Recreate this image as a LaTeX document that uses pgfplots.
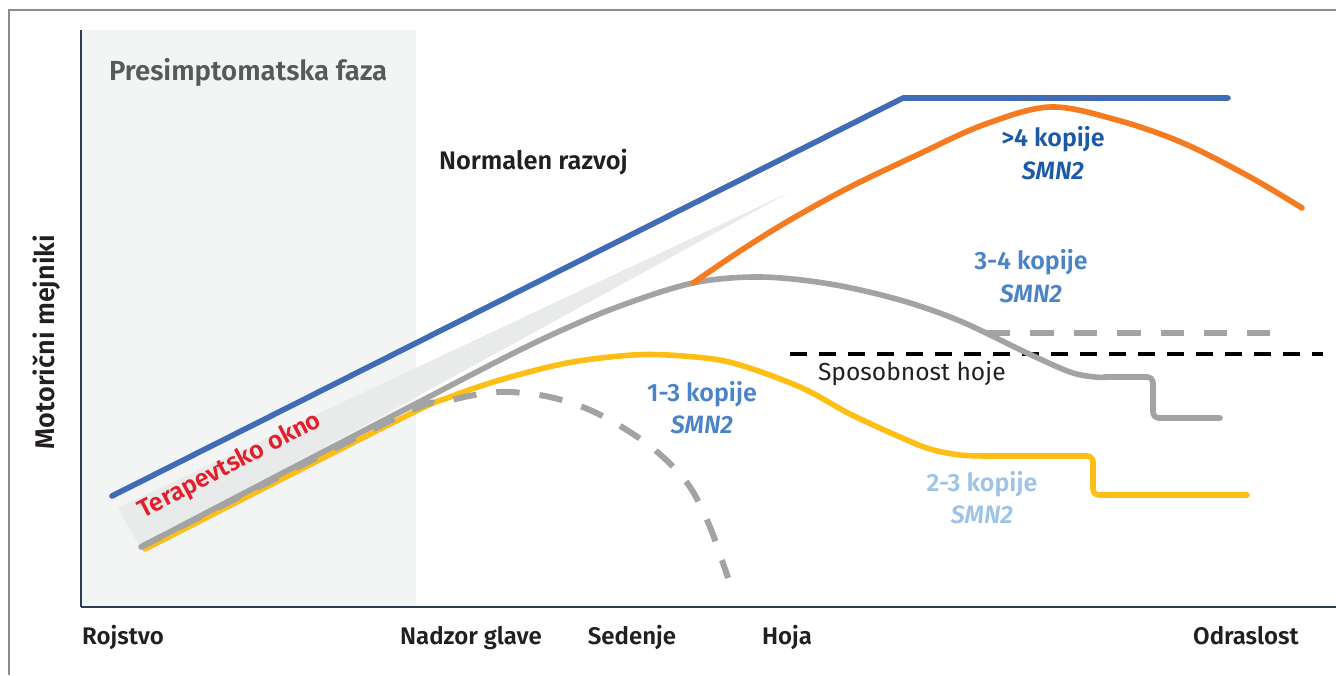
\documentclass[border=0pt]{standalone}
\usepackage{fontspec}
\setmainfont{Fira Sans}[BoldFont={Fira Sans SemiBold},BoldItalicFont={Fira Sans SemiBold Italic}]
\usepackage{pgfplots}
\pgfplotsset{compat=1.18}
\definecolor{blueN}{HTML}{3F6CB4}
\definecolor{orangeC}{HTML}{F47B20}
\definecolor{grayC}{HTML}{A3A3A3}
\definecolor{yellowC}{HTML}{FDBE16}
\definecolor{dblueT}{HTML}{1B5AA6}
\definecolor{mblueT}{HTML}{4A84C6}
\definecolor{lblueT}{HTML}{9DC3E6}
\definecolor{redC}{HTML}{E31E2D}
\definecolor{shadeC}{HTML}{F3F4F4}
\definecolor{wedgeC}{HTML}{E9EAEA}
\definecolor{axisC}{HTML}{2F3B4F}
\definecolor{frameC}{HTML}{8C8C8C}
\definecolor{presT}{HTML}{58595B}
\definecolor{txtC}{HTML}{231F20}
\begin{document}
\begin{tikzpicture}
\begin{axis}[
  scale only axis, width=627.5pt, height=288.5pt,
  xmin=81, xmax=1336, ymin=68, ymax=645,
  axis x line*=bottom, axis y line*=left,
  axis line style={-, line width=1.4pt, color=axisC},
  axis on top, clip=false,
  ytick=\empty,
  xtick={123,471,632,787,1246},
  xticklabels={Rojstvo,Nadzor glave,Sedenje,Hoja,Odraslost},
  major tick length=0pt,
  xticklabel style={font=\bfseries\fontsize{12}{14}\selectfont, text=txtC, anchor=base, yshift=-18.5pt},
  ylabel={Motorični mejniki},
  ylabel style={font=\bfseries\fontsize{13.5}{16}\selectfont, text=txtC, at={(axis description cs:-0.0271,0.459)}, anchor=center},
]
% presymptomatic phase background
\addplot[draw=none, fill=shadeC] coordinates {(81,68) (416,68) (416,645) (81,645)} \closedcycle;
% therapeutic window wedge
\addplot[draw=none, fill=wedgeC] coordinates {(118,167) (790,483) (141,127) (118,167)};
% walking ability line
\addplot[black, line width=2pt, dash pattern=on 8.3pt off 6.2pt] coordinates {(790,321) (1323,321)};
% 3-4 copies dashed plateau
\addplot[grayC, line width=3pt, dash pattern=on 11.7pt off 10pt] coordinates {(987,342) (1270,342)};
% yellow (2-3 copies)
\addplot[yellowC, line width=2.8pt, line cap=round, smooth, tension=0.55] coordinates {
 (145,126) (400,256) (450,278) (500,295) (567,312) (633,320) (683,319) (733,312) (800,288) (850,261) (900,238) (930,226) (960,220) (990,219)};
\addplot[yellowC, line width=2.8pt, line cap=round, rounded corners=3pt] coordinates {
 (985,219) (1093,219) (1093,180) (1247,180)};
% grey dashed (1-3 copies)
\addplot[grayC, line width=3pt, dash pattern=on 11.7pt off 10pt, smooth, tension=0.55] coordinates {
 (141,128) (400,259) (440,272) (480,281) (510,283) (550,278) (590,265) (630,243) (663,218) (690,188) (710,148) (728,97)};
% grey solid (3-4 copies)
\addplot[grayC, line width=2.8pt, line cap=round, smooth, tension=0.55] coordinates {
 (141,128) (300,211) (400,263) (500,315) (560,344) (620,369) (693,392) (760,398) (830,391) (900,375) (960,354) (1027,322) (1070,303) (1095,298) (1110,298)};
\addplot[grayC, line width=2.8pt, line cap=round, rounded corners=3pt] coordinates {
 (1105,298) (1153,298) (1153,257) (1220,257)};
% orange (>4 copies)
\addplot[orangeC, line width=2.8pt, line cap=round, smooth, tension=0.55] coordinates {
 (693,392) (740,424) (790,455) (850,488) (917,520) (983,550) (1050,568) (1117,555) (1183,532) (1250,498) (1302,467)};
% normal development
\addplot[blueN, line width=2.8pt, line cap=round, line join=round] coordinates {(112,179) (903,577) (1228,577)};
% texts
\node[anchor=west, text=presT, font=\bfseries\fontsize{13.8}{16}\selectfont] at (axis cs:102,603) {Presimptomatska faza};
\node[anchor=west, text=txtC, font=\bfseries\fontsize{12.7}{15}\selectfont] at (axis cs:432,513) {Normalen razvoj};
\node[anchor=west, text=txtC, font=\fontsize{12.3}{14}\selectfont] at (axis cs:811,301) {Sposobnost hoje};
\node[text=redC, rotate=27.5, font=\bfseries\fontsize{12.5}{14}\selectfont] at (axis cs:230,209) {Terapevtsko okno};
\node[text=dblueT, font=\bfseries\fontsize{12.5}{14}\selectfont] at (axis cs:1053,536) {>4 kopije};
\node[text=dblueT, font=\bfseries\itshape\fontsize{12.5}{14}\selectfont] at (axis cs:1053,504) {SMN2};
\node[text=mblueT, font=\bfseries\fontsize{12.5}{14}\selectfont] at (axis cs:1031,413) {3-4 kopije};
\node[text=mblueT, font=\bfseries\itshape\fontsize{12.5}{14}\selectfont] at (axis cs:1031,381) {SMN2};
\node[text=mblueT, font=\bfseries\fontsize{12.5}{14}\selectfont] at (axis cs:702,281) {1-3 kopije};
\node[text=mblueT, font=\bfseries\itshape\fontsize{12.5}{14}\selectfont] at (axis cs:702,250) {SMN2};
\node[text=lblueT, font=\bfseries\fontsize{12.5}{14}\selectfont] at (axis cs:982,191) {2-3 kopije};
\node[text=lblueT, font=\bfseries\itshape\fontsize{12.5}{14}\selectfont] at (axis cs:982,160) {SMN2};
% outer frame (top and left)
\draw[frameC, line width=0.9pt] (axis cs:1336,665) -- (axis cs:9,665) -- (axis cs:9,0);
\coordinate (BL) at (axis cs:0,0);
\coordinate (TR) at (axis cs:1336,675);
\end{axis}
\pgfresetboundingbox
\path[use as bounding box] (BL) rectangle (TR);
\end{tikzpicture}
\end{document}
